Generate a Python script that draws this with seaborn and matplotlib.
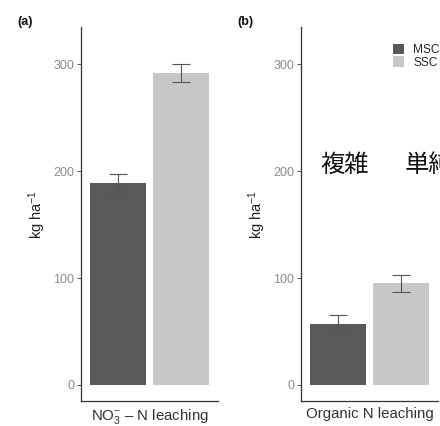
import matplotlib
matplotlib.use("Agg")
import matplotlib.pyplot as plt
from matplotlib.patches import Patch
import seaborn as sns
import pandas as pd

# Leaching categories and cropping systems
metrics = ["NO$_3^{-}$ – N leaching", "Organic N leaching"]
systems = ["MSC", "SSC"]

# Mean leaching (kg ha-1) and standard errors per system
no3_means = [189, 292]
no3_se = [8, 8.5]
org_means = [57.5, 95]
org_se = [8, 8]

panel_tags = ["(a)", "(b)"]
overlay_words = ["複雑", "単純"]

palette = {"MSC": "#58595b", "SSC": "#c6c7c9"}

sns.set_theme(style="ticks")
plt.rcParams["font.family"] = ["Liberation Sans", "Noto Sans CJK JP", "DejaVu Sans"]
plt.rcParams["mathtext.fontset"] = "custom"
plt.rcParams["mathtext.rm"] = "Liberation Sans"
plt.rcParams["mathtext.it"] = "Liberation Sans:italic"
plt.rcParams["mathtext.bf"] = "Liberation Sans:bold"

W, H = 440, 426
fig = plt.figure(figsize=(W / 100, H / 100), dpi=100)


def frac_box(x0, y0, x1, y1):
    return [x0 / W, 1 - y1 / H, (x1 - x0) / W, (y1 - y0) / H]


axes = [fig.add_axes(frac_box(81, 27, 218, 401)),
        fig.add_axes(frac_box(301, 27, 438, 401))]

panels = [(metrics[0], no3_means, no3_se), (metrics[1], org_means, org_se)]

for ax, (metric, means, errs) in zip(axes, panels):
    df = pd.DataFrame({"metric": [metric] * len(systems),
                       "system": systems,
                       "value": means})
    sns.barplot(data=df, x="metric", y="value", hue="system",
                hue_order=systems, palette=palette, saturation=1,
                width=0.8, gap=0.11, errorbar=None, linewidth=0,
                legend=False, ax=ax)
    bars = ax.patches[:len(systems)]
    centers = [b.get_x() + b.get_width() / 2 for b in bars]
    ax.errorbar(centers, means, yerr=errs, fmt="none", ecolor="#555555",
                elinewidth=0.8, capsize=6.5, capthick=0.8, zorder=3)

    ax.set_xlim(-0.435, 0.435)
    ax.set_ylim(-15, 335)
    ax.set_yticks([0, 100, 200, 300])
    ax.set_xlabel("")
    ax.set_ylabel("kg ha$^{-1}$", fontsize=10.5, color="#222222", labelpad=4)
    ax.tick_params(axis="y", length=3, width=0.7, color="#555555",
                   labelsize=9, labelcolor="#8a8a8a", pad=2)
    ax.tick_params(axis="x", length=0, labelsize=10.8, labelcolor="#333333", pad=4)
    for side in ("top", "right"):
        ax.spines[side].set_visible(False)
    for side in ("left", "bottom"):
        ax.spines[side].set_color("#333333")
        ax.spines[side].set_linewidth(0.9)
    ax.set_facecolor("white")

# Legend with square keys stacked tightly
handles = [Patch(facecolor=palette[s], edgecolor="none", label=s) for s in systems]
axes[1].legend(handles=handles, loc="upper left",
               bbox_to_anchor=(393 / W, 1 - 44 / H), bbox_transform=fig.transFigure,
               frameon=False, fontsize=8.6, handlelength=0.95, handleheight=0.95,
               handletextpad=0.75, labelspacing=0, borderpad=0, borderaxespad=0)

for tag, x in zip(panel_tags, [17, 237]):
    fig.text(x / W, 1 - 22 / H, tag, fontsize=9, fontweight="bold",
             ha="left", va="center", color="#111111")

for word, x in zip(overlay_words, [320, 405]):
    fig.text(x / W, 1 - 165 / H, word, fontsize=17.5, ha="left", va="center",
             color="#111111", family=["Noto Sans CJK JP", "DejaVu Sans"])

fig.savefig("out.png", dpi=100, facecolor="white")
